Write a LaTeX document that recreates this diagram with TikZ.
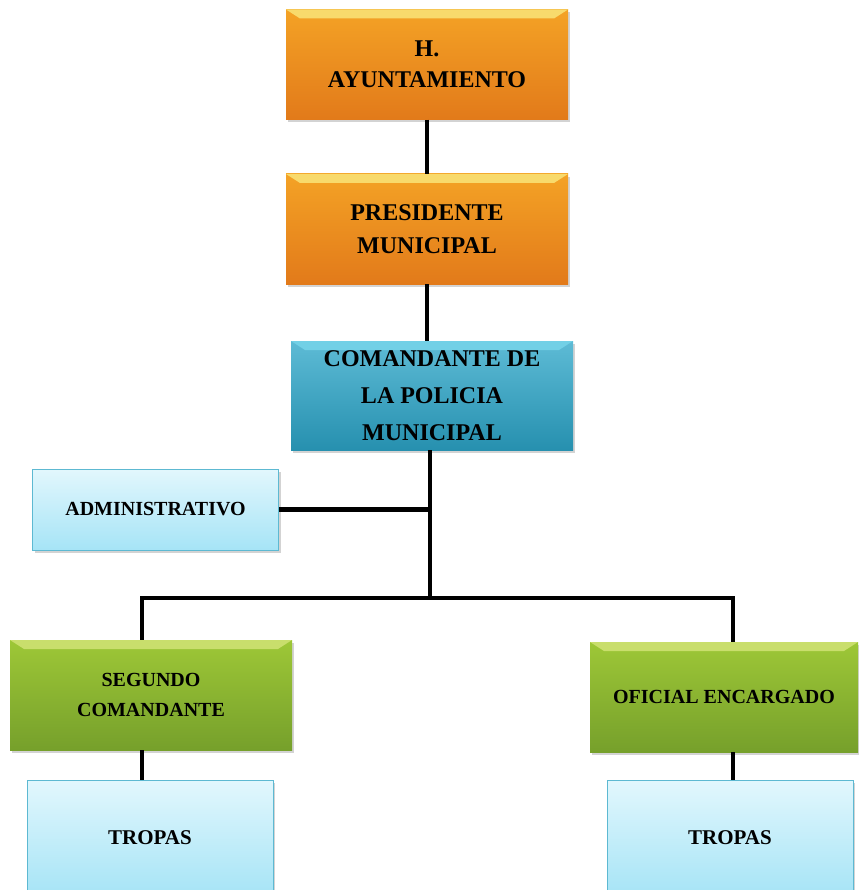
\documentclass[tikz,border=0pt]{standalone}
\usepackage{fontspec}
\setmainfont{Liberation Serif}
\usepackage{tikz}
\usetikzlibrary{positioning,shadows}

\definecolor{naranja}{HTML}{F2922C}
\definecolor{naranjaOsc}{HTML}{E27A1A}
\definecolor{naranjaBis}{HTML}{F8DA6C}
\definecolor{azul}{HTML}{35AACB}
\definecolor{azulOsc}{HTML}{2690AF}
\definecolor{azulBis}{HTML}{72D0E6}
\definecolor{celeste}{HTML}{E2F7FD}
\definecolor{celesteOsc}{HTML}{A6E4F6}
\definecolor{celesteBorde}{HTML}{5DB9D2}
\definecolor{verde}{HTML}{93C13D}
\definecolor{verdeOsc}{HTML}{76A02B}
\definecolor{verdeBis}{HTML}{C9DE6C}

\tikzset{
  caja/.style={rectangle, inner sep=0pt, align=center,
    drop shadow={opacity=0.35, shadow xshift=2pt, shadow yshift=-3pt}},
  letra/.style 2 args={font={\bfseries\fontsize{#1}{#2}\selectfont}},
  bisel/.style={path picture={
    \fill[#1] (path picture bounding box.north west) -- (path picture bounding box.north east)
      -- ([shift={(-14pt,-9pt)}]path picture bounding box.north east)
      -- ([shift={(14pt,-9pt)}]path picture bounding box.north west) -- cycle;}},
  jefe/.style={caja, top color=naranja!85!yellow, bottom color=naranjaOsc,
    bisel=naranjaBis, minimum width=282pt, minimum height=110pt},
  mando/.style={caja, top color=azul!80!white, bottom color=azulOsc,
    bisel=azulBis, minimum width=282pt, minimum height=109pt},
  oficial/.style={caja, top color=verde!90!yellow, bottom color=verdeOsc,
    bisel=verdeBis, minimum height=110pt},
  apoyo/.style={caja, draw=celesteBorde, line width=1pt, top color=celeste,
    bottom color=celesteOsc, minimum width=246pt},
  linea/.style={line width=4.5pt, black}
}

\begin{document}
\begin{tikzpicture}[x=1pt,y=-1pt]
  \useasboundingbox (0,0) rectangle (858,890);

  \node[jefe, letra={24}{31}]  (ayun) at (427,64.5)  {H.\\ AYUNTAMIENTO};
  \node[jefe, letra={24}{33}]  (pres) at (427,229)   {PRESIDENTE\\ MUNICIPAL};
  \node[mando, letra={24}{37}] (com)  at (432,395.5) {COMANDANTE DE\\ LA POLICIA\\ MUNICIPAL};
  \node[apoyo, letra={20}{24}, minimum height=81pt] (adm) at (155.5,509.5) {ADMINISTRATIVO};

  \node[oficial, letra={20}{30}, minimum width=282pt] (seg) at (151,695) {SEGUNDO\\ COMANDANTE};
  \node[oficial, letra={20}{24}, minimum width=268pt] (ofi) at (724,697) {OFICIAL ENCARGADO};

  \node[apoyo, letra={21}{24}, minimum height=116pt] (tropL) at (150,838) {TROPAS};
  \node[apoyo, letra={21}{24}, minimum height=116pt] (tropR) at (730,838) {TROPAS};

  % tronco y ramas
  \coordinate (j)  at (430,598);
  \coordinate (bL) at (142,598);
  \coordinate (bR) at (733,598);

  \draw[linea] (ayun.south) -- (pres.north);
  \draw[linea] (pres.south) -- (pres.south |- com.north);
  \draw[linea] (com.south -| j) -- (j);
  \draw[linea] (adm.east) -- (adm.east -| j);
  \draw[linea, line cap=rect] (bL) -- (bR);
  \draw[linea] (bL) -- (bL |- seg.north);
  \draw[linea] (bR) -- (bR |- ofi.north);
  \draw[linea] (bL |- seg.south) -- (bL |- tropL.north);
  \draw[linea] (bR |- ofi.south) -- (bR |- tropR.north);
\end{tikzpicture}
\end{document}
